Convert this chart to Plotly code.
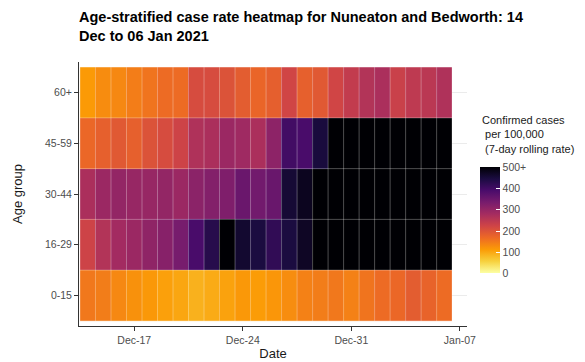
import pandas as pd
import plotly.graph_objects as go

# 7-day rolling case rate per 100,000
dates = pd.date_range("2020-12-14", "2021-01-06", freq="D")
age_groups = ["0-15", "16-29", "30-44", "45-59", "60+"]

rate_0_15 = [150, 145, 132, 122, 115, 106, 100, 88, 95, 104, 114, 110,
             117, 127, 140, 145, 150, 140, 155, 165, 170, 185, 175, 165]
rate_16_29 = [225, 260, 280, 290, 305, 315, 335, 390, 430, 505, 460, 445,
              418, 445, 470, 540, 575, 600, 620, 640, 650, 660, 665, 670]
rate_30_44 = [270, 290, 300, 295, 295, 300, 290, 310, 320, 325, 350, 340,
              352, 455, 475, 520, 550, 580, 600, 615, 625, 640, 650, 655]
rate_45_59 = [170, 180, 190, 180, 200, 210, 225, 265, 270, 290, 285, 270,
              308, 398, 390, 448, 510, 540, 565, 585, 600, 610, 620, 625]
rate_60_plus = [112, 128, 132, 144, 154, 165, 165, 210, 210, 200, 185, 172,
                182, 220, 180, 190, 220, 240, 260, 270, 230, 245, 250, 265]

cbar_ticks = [0, 100, 200, 300, 400, 500]
cbar_labels = ["0", "100", "200", "300", "400", "500+"]
x_ticks = ["2020-12-17", "2020-12-24", "2020-12-31", "2021-01-07"]


def main():
    z = [rate_0_15, rate_16_29, rate_30_44, rate_45_59, rate_60_plus]
    rows = list(range(len(age_groups)))

    fig = go.Figure()
    fig.add_trace(
        go.Heatmap(
            x=dates,
            y=rows,
            z=z,
            zmin=0,
            zmax=500,
            colorscale="Inferno_r",
            colorbar=dict(
                tickvals=cbar_ticks,
                ticktext=cbar_labels,
                ticks="inside",
                tickcolor="white",
                ticklen=4,
                tickfont=dict(size=10.5, color="#4d4d4d"),
                outlinewidth=0,
                thickness=20,
                lenmode="pixels",
                len=106,
                x=1.033,
                xanchor="left",
                xpad=0,
                y=0.40,
                yanchor="middle",
                ypad=0,
            ),
            hoverongaps=False,
        )
    )

    # faint tile borders drawn over the heatmap
    half = pd.Timedelta(hours=12)
    bx, by = [], []
    for d in list(dates) + [dates[-1] + pd.Timedelta(days=1)]:
        bx += [d - half, d - half, None]
        by += [-0.5, len(age_groups) - 0.5, None]
    for r in range(len(age_groups) + 1):
        bx += [dates[0] - half, dates[-1] + half, None]
        by += [r - 0.5, r - 0.5, None]
    fig.add_trace(
        go.Scatter(
            x=bx, y=by, mode="lines",
            line=dict(color="rgba(255,255,255,0.3)", width=1),
            hoverinfo="skip", showlegend=False,
        )
    )

    fig.add_annotation(
        text="Confirmed cases<br>\u00a0per 100,000<br>\u00a0(7-day rolling rate)",
        xref="paper", yref="paper",
        x=1.033, y=0.81,
        xanchor="left", yanchor="top",
        align="left",
        showarrow=False,
        font=dict(size=11, color="#1a1a1a"),
    )

    fig.update_layout(
        width=585,
        height=362,
        margin=dict(l=79, r=118, t=62, b=36),
        paper_bgcolor="white",
        plot_bgcolor="white",
        font=dict(family="Liberation Sans, Arial, sans-serif", color="#1a1a1a"),
        title=dict(
            text="<b>Age-stratified case rate heatmap for Nuneaton and Bedworth: 14<br>Dec to 06 Jan 2021</b>",
            font=dict(size=14.5, color="black"),
            xref="paper",
            x=0,
            xanchor="left",
            yref="container",
            y=0.938,
            yanchor="top",
        ),
        showlegend=False,
    )

    fig.update_xaxes(
        range=["2020-12-13 10:30", "2021-01-07 11:00"],
        tickvals=x_ticks,
        tickformat="%b-%d",
        ticks="outside",
        ticklen=4,
        tickcolor="#333333",
        tickfont=dict(size=10.5, color="#4d4d4d"),
        showline=True,
        linecolor="#333333",
        linewidth=1,
        showgrid=False,
        zeroline=False,
        automargin=False,
        title=dict(text="Date", font=dict(size=13), standoff=3),
    )
    fig.update_yaxes(
        range=[-0.6, 4.6],
        tickvals=rows,
        ticktext=age_groups,
        ticks="outside",
        ticklen=4,
        tickcolor="#333333",
        tickfont=dict(size=10.5, color="#4d4d4d"),
        showline=True,
        linecolor="#333333",
        linewidth=1,
        showgrid=True,
        gridcolor="#ebebeb",
        zeroline=False,
        automargin=False,
        title=dict(text="Age group", font=dict(size=13), standoff=19),
    )

    # drop the page's default body margin so the figure sits at the window origin
    fig.write_html(
        "out.html",
        config={"displayModeBar": False},
        post_script="document.body.style.margin = '0';",
    )


if __name__ == "__main__":
    main()
